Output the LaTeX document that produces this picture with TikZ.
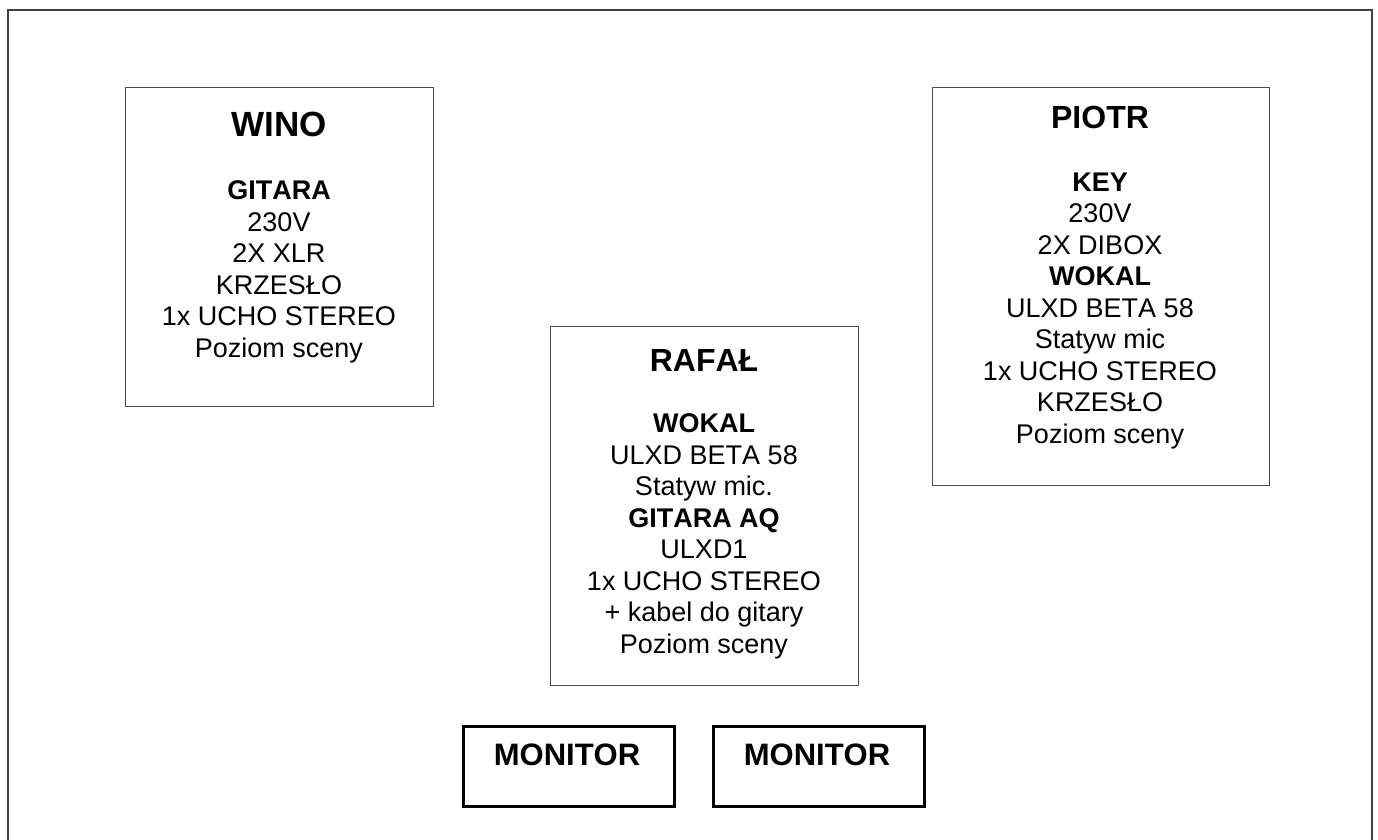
\documentclass[tikz,border=0pt]{standalone}
\usepackage{fontspec}
\setmainfont{Liberation Sans}[Kerning=Off]
\begin{document}
\begin{tikzpicture}[x=1pt,y=-1pt,
  frame/.style={draw=black!75,line width=1.4pt},
  personbox/.style={draw=black!70,line width=1.3pt,inner sep=0pt,anchor=north west},
  monbox/.style={draw=black,line width=2.6pt,inner sep=0pt,anchor=north west},
  title/.style={inner sep=0pt,font=\fontsize{32}{36}\selectfont\bfseries},
  body/.style={inner sep=0pt,align=center,anchor=north,font=\fontsize{27}{31.5}\selectfont},
  montext/.style={inner sep=0pt,font=\fontsize{31}{34}\selectfont\bfseries}]
\useasboundingbox (0,0) rectangle (1378,840);
% outer frame
\coordinate (fbl) at (8,845);
\coordinate (ftl) at (8,10);
\coordinate (ftr) at (1372,10);
\coordinate (fbr) at (1372,845);
\draw[frame] (fbl) -- (ftl) -- (ftr) -- (fbr);
% WINO
\node[personbox,minimum width=308pt,minimum height=319pt] (wino) at (125,87) {};
\node[title,font=\fontsize{35}{38}\selectfont\bfseries] (winot) at (279,124) {WINO};
\node[body] (winob) at (279,180.5) {\textbf{GITARA}\\230V\\2X XLR\\KRZESŁO\\1x UCHO STEREO\\Poziom sceny};
% RAFAL
\node[personbox,minimum width=308pt,minimum height=359pt] (rafal) at (550,326) {};
\node[title] (rafalt) at (704,360) {RAFAŁ};
\node[body] (rafalb) at (704,413.5) {\textbf{WOKAL}\\ULXD BETA 58\\Statyw mic.\\\textbf{GITARA AQ}\\ULXD1\\1x UCHO STEREO\\+ kabel do gitary\\Poziom sceny};
% PIOTR
\node[personbox,minimum width=337pt,minimum height=398pt] (piotr) at (932,87) {};
\node[title] (piotrt) at (1100,117) {PIOTR};
\node[body] (piotrb) at (1100,172.5) {\textbf{KEY}\\230V\\2X DIBOX\\\textbf{WOKAL}\\ULXD BETA 58\\Statyw mic\\1x UCHO STEREO\\KRZESŁO\\Poziom sceny};
% MONITORS
\node[monbox,minimum width=211pt,minimum height=80pt] (mon1) at (462,725) {};
\node[montext] (mon1t) at (567,755) {MONITOR};
\node[monbox,minimum width=211pt,minimum height=80pt] (mon2) at (712,725) {};
\node[montext] (mon2t) at (817,755) {MONITOR};
\end{tikzpicture}
\end{document}
